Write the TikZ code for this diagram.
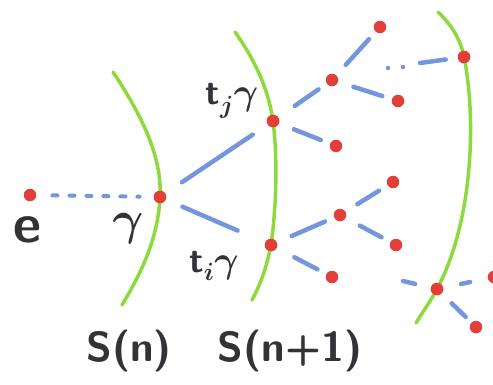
\documentclass[tikz,border=0pt]{standalone}
\usepackage{amsmath, amssymb}
\usepackage{graphicx}
\usepackage{xcolor}
\usepackage{tikz}
\usetikzlibrary{positioning, calc}

\definecolor{spheregreen}{RGB}{140,218,60}
\definecolor{branchblue}{RGB}{115,150,222}
\definecolor{pointred}{RGB}{228,62,58}
\definecolor{inkgrey}{RGB}{50,50,55}

\begin{document}
\begin{tikzpicture}[x=1pt, y=-1pt,
        point/.style={circle, fill=pointred, inner sep=0pt, minimum size=12.5pt},
        branch/.style={draw=branchblue, line width=4.5pt, line cap=round, shorten <=16pt, shorten >=10pt},
        sphere/.style={draw=spheregreen, line width=3.5pt, line cap=round},
        tag/.style={text=inkgrey, font=\fontsize{42}{46}\selectfont\sffamily\bfseries\boldmath, inner sep=0pt},
        smalltag/.style={text=inkgrey, font=\fontsize{36}{40}\selectfont\sffamily\bfseries\boldmath, inner sep=0pt}
    ]
    \useasboundingbox (0,0) rectangle (493,384);

    % Points on the spheres
    \node[point] (e) at (30,195) {};
    \node[point] (g) at (160,197) {};
    \node[point] (tj) at (273,121) {};
    \node[point] (ti) at (271,245) {};
    \node[point] (far) at (464,57) {};
    \node[point] (near) at (437,289) {};

    % Spheres S(n), S(n+1) and a further one
    \draw[sphere] (113,72) .. controls (145,120) and (162,160) .. (g.center)
        .. controls (158,240) and (140,275) .. (122,305);
    \draw[sphere] (235,32) .. controls (262,70) and (270,100) .. (tj.center)
        .. controls (278,160) and (276,210) .. (ti.center)
        .. controls (266,270) and (260,285) .. (252,300);
    \draw[sphere] (438,12) .. controls (455,28) and (462,45) .. (far.center)
        .. controls (476,115) and (474,220) .. (near.center)
        .. controls (430,302) and (422,313) .. (416,323);
    \node[point] at (g) {};
    \node[point] at (tj) {};
    \node[point] at (ti) {};
    \node[point] at (far) {};
    \node[point] at (near) {};

    % Tree above t_j gamma
    \node[point] (tjA) at (332,80) {};
    \node[point] (tjB) at (336,146) {};
    \node[point] (tjAa) at (380,27) {};
    \node[point] (tjAb) at (398,101) {};

    % Tree below t_i gamma
    \node[point] (tiA) at (340,215) {};
    \node[point] (tiB) at (332,277) {};
    \node[point] (tiAa) at (393,182) {};
    \node[point] (tiAb) at (396,245) {};

    % Leaves at the far right
    \node[point] (nearA) at (494,277) {};
    \node[point] (nearB) at (476,327) {};
    \coordinate (dotsstart) at (388,68);
    \coordinate (farline) at (420,63);
    \coordinate (nearleft) at (403,281);

    % Labels
    \node[tag] (elabel) at (27,230) {\scalebox{1.3}{e}};
    \node[tag] (glabel) at (128,229) {\scalebox{1.9}{$\gamma$}};
    \node[smalltag] (tjlabel) at (232,101) {t$_j$\scalebox{1.5}{$\gamma$}};
    \node[smalltag] (tilabel) at (214,266) {t$_i$\scalebox{1.5}{$\gamma$}};
    \node[tag] (sn) at (129,351) {S(n)};
    \node[tag] (snn) at (290,351) {S(n+1)};

    % Branches
    \draw[branch, line width=4pt, dash pattern=on 5pt off 12pt, shorten <=16pt, shorten >=14pt] (e) -- (g);
    \draw[branch, shorten <=20pt, shorten >=18pt] (g) -- (tj);
    \draw[branch, shorten <=18pt, shorten >=30pt] (g) -- (ti);

    \draw[branch, shorten <=20pt] (tj) -- (tjA);
    \draw[branch] (tj) -- (tjB);
    \draw[branch, shorten <=14pt] (tjA) -- (tjAa);
    \draw[branch] (tjA) -- (tjAb);
    \draw[branch, dash pattern=on 0pt off 15pt, shorten <=0pt, shorten >=0pt] (dotsstart) -- ++(16,-1);
    \draw[branch, shorten <=0pt, shorten >=12pt] (farline) -- (far);

    \draw[branch] (ti) -- (tiA);
    \draw[branch, shorten <=20pt] (ti) -- (tiB);
    \draw[branch, shorten <=14pt] (tiA) -- (tiAa);
    \draw[branch] (tiA) -- (tiAb);

    \draw[branch, shorten <=0pt, shorten >=16pt] (nearleft) -- (near);
    \draw[branch, shorten <=18pt, shorten >=18pt] (near) -- (nearA);
    \draw[branch, shorten <=14pt, shorten >=8pt] (near) -- (nearB);

\end{tikzpicture}
\end{document}
